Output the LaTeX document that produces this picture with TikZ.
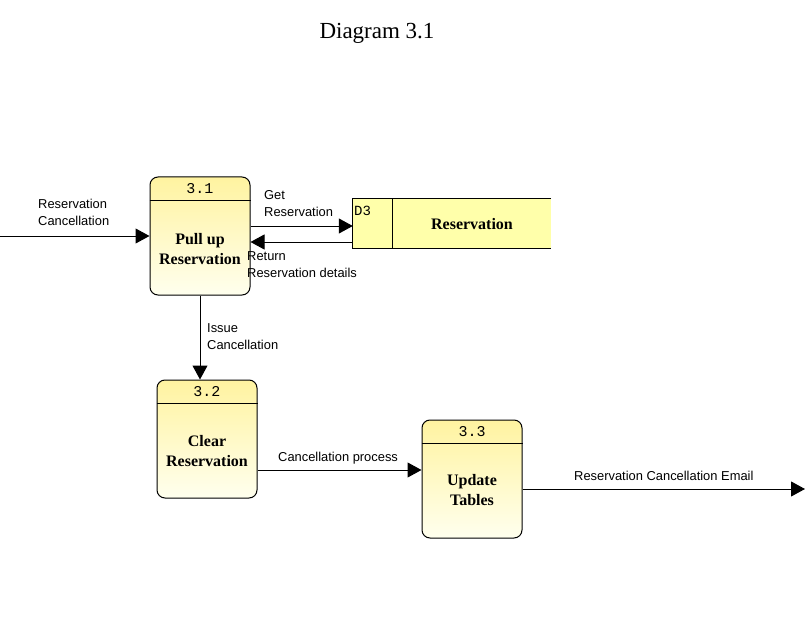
\documentclass[tikz,border=0pt]{standalone}
\usepackage{fontspec}
\setmainfont{Liberation Serif}
\setmonofont{Liberation Mono}
\newfontfamily\arialf{Liberation Sans}
\usetikzlibrary{arrows.meta}
\definecolor{boxtop}{RGB}{255,243,160}
\definecolor{boxbot}{RGB}{255,255,238}
\definecolor{storefill}{RGB}{255,255,170}
\tikzset{
  proc/.style={draw, line width=1pt, rounded corners=8pt, top color=boxtop, bottom color=boxbot,
    minimum width=100pt, minimum height=118pt, inner sep=0pt},
  hdr/.style={font=\ttfamily\fontsize{15}{15}\selectfont, inner sep=0pt},
  pname/.style={font=\fontsize{16}{19.5}\selectfont\bfseries, align=center, inner sep=0pt},
  lbl/.style={font=\arialf\fontsize{12.9}{17}\selectfont, align=left, inner sep=0pt, anchor=north west},
  flow/.style={line width=1pt, -{Triangle[length=14pt,width=15pt]}},
}
\begin{document}
\begin{tikzpicture}[x=1pt,y=-1pt]
\useasboundingbox (0,0) rectangle (809,623);
\node[font=\fontsize{23}{23}\selectfont] (title) at (377,33) {Diagram 3.1};

% processes
\node[proc] (p1) at (200,236) {};
\node[proc] (p2) at (207,439) {};
\node[proc] (p3) at (472,479) {};
\foreach \p/\n in {p1/3.1, p2/3.2, p3/3.3}{
  \draw[line width=1pt] ([yshift=-24pt]\p.north west) -- ([yshift=-24pt]\p.north east);
  \node[hdr] (\p h) at ([yshift=-12pt]\p.north) {\n};
}
\node[pname] (p1n) at ([yshift=-13pt]p1.center) {Pull up\\Reservation};
\node[pname] (p2n) at ([yshift=-12pt]p2.center) {Clear\\Reservation};
\node[pname] (p3n) at ([yshift=-11pt]p3.center) {Update\\Tables};

% data store
\node[fill=storefill, minimum width=198pt, minimum height=49pt, inner sep=0pt] (ds) at (452,223.5) {};
\draw[line width=1pt] (ds.north east) -- (ds.north west) -- (ds.south west) -- (ds.south east);
\draw[line width=1pt] ([xshift=40pt]ds.north west) -- ([xshift=40pt]ds.south west);
\node[font=\ttfamily\fontsize{14}{14}\selectfont, inner sep=0pt, anchor=north west] (dsid) at (354,206) {D3};
\node[font=\fontsize{16}{16}\selectfont\bfseries, inner sep=0pt] (dsn) at (472,224) {Reservation};

% flows
\coordinate (in) at (0,236);
\coordinate (out) at (805,489);
\draw[flow] (in) -- (p1.west);
\draw[flow] ([yshift=10pt]p1.east) -- ([yshift=10pt]p1.east -| ds.west);
\draw[flow] ([yshift=-18.5pt]ds.west) -- ([yshift=-18.5pt]ds.west -| p1.east);
\draw[flow] (p1.south) -- (p1.south |- p2.north);
\draw[flow] ([yshift=-31pt]p2.east) -- ([yshift=-31pt]p2.east -| p3.west);
\draw[flow] ([yshift=-10pt]p3.east) -- (out);

% labels
\node[lbl] (l1) at (38,199) {Reservation\\Cancellation};
\node[lbl] (l2) at (264,190.5) {Get\\Reservation};
\node[lbl] (l3) at (247,251.5) {Return\\Reservation details};
\node[lbl] (l4) at (207,323.5) {Issue\\Cancellation};
\node[lbl] (l5) at (278,451.5) {Cancellation process};
\node[lbl] (l6) at (574,470.5) {Reservation Cancellation Email};
\end{tikzpicture}
\end{document}
